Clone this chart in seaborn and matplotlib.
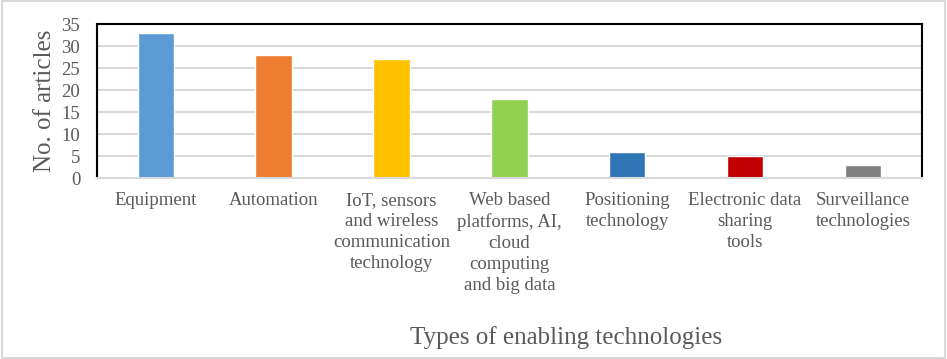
import matplotlib
matplotlib.use('Agg')
import matplotlib.pyplot as plt
import seaborn as sns
import pandas as pd
from matplotlib.patches import Rectangle

categories = [
    "Equipment",
    "Automation",
    "IoT, sensors\nand wireless\ncommunication\ntechnology",
    "Web based\nplatforms, AI,\ncloud\ncomputing\nand big data",
    "Positioning\ntechnology",
    "Electronic data\nsharing\ntools",
    "Surveillance\ntechnologies",
]
articles = [33, 28, 27, 18, 6, 5, 3]
bar_colors = ["#5B9BD5", "#ED7D31", "#FFC000", "#92D050", "#2E75B6", "#C00000", "#808080"]
y_ticks = [0, 5, 10, 15, 20, 25, 30, 35]

df = pd.DataFrame({"category": categories, "articles": articles})

sns.set_style("white")
plt.rcParams['font.family'] = ['Liberation Serif', 'DejaVu Serif']

fig = plt.figure(figsize=(9.47, 3.59), dpi=100)
ax = fig.add_axes([0.1024, 0.504, 0.871, 0.429])

sns.barplot(x="category", y="articles", data=df, hue="category",
            palette=bar_colors, legend=False, width=0.31, ax=ax, saturation=1)

ax.set_xlim(-0.5, 6.5)
ax.set_ylim(0, 35)
ax.set_yticks(y_ticks)
ax.yaxis.grid(True, color="#D9D9D9", linewidth=1.5)
ax.set_axisbelow(True)
ax.tick_params(axis='both', length=0, labelsize=13.5, labelcolor="#595959")
ax.tick_params(axis='y', pad=12)
ax.tick_params(axis='x', pad=10)
for lbl in ax.get_xticklabels():
    lbl.set_linespacing(1.3)
for side in ["top", "right", "left"]:
    ax.spines[side].set_color("black")
    ax.spines[side].set_linewidth(1.5)
ax.spines["bottom"].set_color("#D9D9D9")
ax.spines["bottom"].set_linewidth(1.5)

ax.set_ylabel("No. of articles", fontsize=18, color="#595959", labelpad=4)
ax.set_xlabel("Types of enabling technologies", fontsize=18, color="#595959")
ax.xaxis.set_label_coords(0.569, -0.96)

# light frame around the whole chart
fig.patches.append(Rectangle((0.002, 0.004), 0.996, 0.992, transform=fig.transFigure,
                             fill=False, edgecolor="#D9D9D9", linewidth=1.5))

plt.savefig("out.png", dpi=100)
plt.close()
